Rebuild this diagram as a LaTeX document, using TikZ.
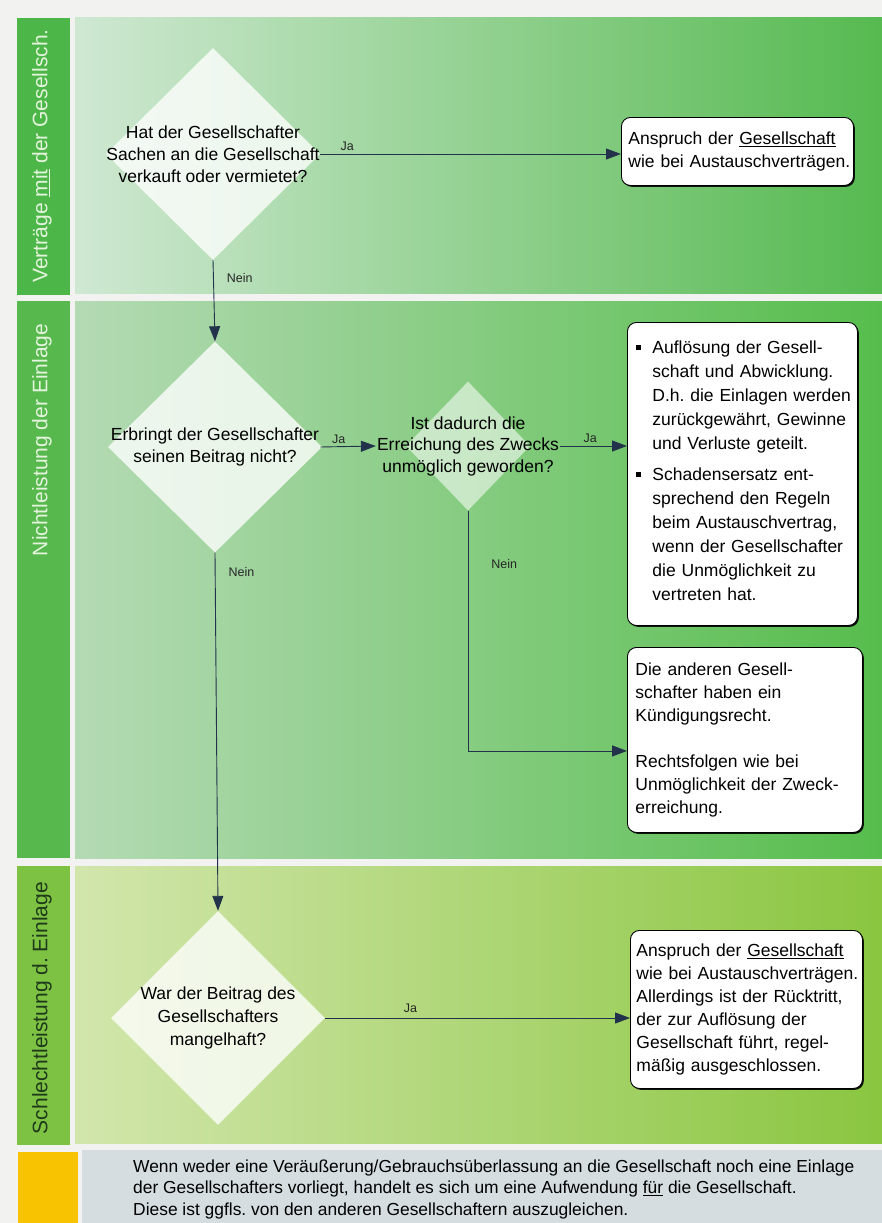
\documentclass[tikz,border=0pt]{standalone}
\usepackage{fontspec}
\setmainfont{Liberation Sans}
\usetikzlibrary{shapes.geometric,arrows.meta,shadows,positioning}
\definecolor{pagebg}{HTML}{F2F3F1}
\definecolor{barone}{HTML}{4CB748}
\definecolor{bartwo}{HTML}{57B84E}
\definecolor{barthree}{HTML}{7EC244}
\definecolor{barfont}{HTML}{E4F4DC}
\definecolor{darkfont}{HTML}{1E3A1A}
\definecolor{noteyellow}{HTML}{F8C300}
\definecolor{notegray}{HTML}{D5DDE0}
\definecolor{linecol}{HTML}{22324A}
\hyphenpenalty=10000
\frenchspacing
\tikzset{
  flow/.style={draw=linecol, line width=0.9pt, -{Triangle[length=15pt,width=11pt]}},
  question/.style={diamond, fill=white, fill opacity=0.78, draw=none, inner sep=0pt},
  qtext/.style={align=center, inner sep=1pt, font=\fontsize{17.5}{22}\selectfont},
  outcome/.style={draw=black, line width=0.9pt, rounded corners=9pt, fill=white,
    drop shadow={shadow xshift=1.4pt, shadow yshift=-1.4pt, fill=black, opacity=0.9},
    anchor=north west, align=left, inner xsep=6pt, inner ysep=0pt,
    font=\fontsize{17.5}{23}\selectfont},
  yesno/.style={font=\fontsize{12.5}{14}\selectfont, text=black!85, inner sep=1pt},
  bandlabel/.style={rotate=90, inner sep=0pt, font=\fontsize{21}{24}\selectfont}
}
\newcommand{\sqitem}[1]{\noindent\hspace*{7pt}\makebox[16pt][l]{\raisebox{3.5pt}{\rule{5pt}{5pt}}}\parbox[t]{203pt}{\raggedright\setlength{\baselineskip}{24pt}#1\strut}}
\begin{document}
\begin{tikzpicture}[x=1pt,y=-1pt]
\useasboundingbox (0,0) rectangle (882,1223);
\fill[pagebg] (0,0) rectangle (882,1223);

% bands
\fill[barone] (17,18) rectangle (70,295);
\shade[left color={rgb,255:red,207;green,232;blue,210}, right color={rgb,255:red,86;green,186;blue,80}] (75,18) rectangle (882,293);
\fill[bartwo] (17,301) rectangle (70,858);
\shade[left color={rgb,255:red,180;green,218;blue,180}, right color={rgb,255:red,86;green,189;blue,76}] (75,301) rectangle (882,858);
\fill[barthree] (17,866) rectangle (70,1145);
\shade[left color={rgb,255:red,210;green,230;blue,172}, right color={rgb,255:red,138;green,198;blue,64}] (75,866) rectangle (882,1143);
\fill[noteyellow] (18,1152) rectangle (78,1223);
\fill[notegray] (82,1150) rectangle (882,1223);

% band labels
\node[bandlabel, text=barfont] (L1) at (42,156) {Verträge \underline{mit} der Gesellsch.};
\node[bandlabel, text=barfont] (L2) at (42,440) {Nichtleistung der Einlage};
\node[bandlabel, text=darkfont] (L3) at (42,1008) {Schlechtleistung d. Einlage};

% questions
\node[question, minimum width=214pt, minimum height=212pt] (D1) at (213,154) {};
\node[qtext] (D1t) at (D1) {Hat der Gesellschafter\\Sachen an die Gesellschaft\\verkauft oder vermietet?};
\node[question, minimum width=214pt, minimum height=211pt] (D2) at (215,447) {};
\node[qtext] (D2t) at (D2) {Erbringt der Gesellschafter\\seinen Beitrag nicht?};
\node[question, fill opacity=0.55, minimum width=124pt, minimum height=129pt] (D3) at (468,446) {};
\node[qtext, font=\fontsize{17.5}{21.5}\selectfont] (D3t) at (D3) {Ist dadurch die\\Erreichung des Zwecks\\unmöglich geworden?};
\node[question, minimum width=214pt, minimum height=214pt] (D4) at (218,1018) {};
\node[qtext, font=\fontsize{17.5}{23}\selectfont] (D4t) at (D4) {War der Beitrag des\\Gesellschafters\\mangelhaft?};

% results
\node[outcome, text width=226pt, minimum width=232pt, minimum height=68pt, inner xsep=3pt] (A1) at (621,117)
  {\hspace*{4pt}Anspruch der \underline{Gesellschaft}\\\hspace*{4pt}wie bei Austauschverträgen.};
\node[outcome, text width=226pt, minimum width=230pt, minimum height=303pt, inner xsep=2pt] (B1) at (627,322)
  {\sqitem{Auflösung der Gesell-\\schaft und Abwicklung.\\D.h. die Einlagen werden\\zurückgewährt, Gewinne\\und Verluste geteilt.}\\[10pt]
   \sqitem{Schadensersatz ent-\\sprechend den Regeln\\beim Austauschvertrag,\\wenn der Gesellschafter\\die Unmöglichkeit zu\\vertreten hat.}};
\node[outcome, text width=219pt, minimum width=233pt, minimum height=185pt, inner xsep=8pt] (B2) at (627,647)
  {Die anderen Gesell-\\schafter haben ein\\Kündigungsrecht.\\[23pt]Rechtsfolgen wie bei\\Unmöglichkeit der Zweck-\\erreichung.};
\node[outcome, text width=226pt, minimum width=232pt, minimum height=158pt, inner xsep=3pt] (C1) at (630,930)
  {\hspace*{3pt}Anspruch der \underline{Gesellschaft}\\\hspace*{3pt}wie bei Austauschverträgen.\\\hspace*{3pt}Allerdings ist der Rücktritt,\\\hspace*{3pt}der zur Auflösung der\\\hspace*{3pt}Gesellschaft führt, regel-\\\hspace*{3pt}mäßig ausgeschlossen.};

% note
\node[anchor=west, align=left, inner sep=0pt, font=\fontsize{17.4}{21.5}\selectfont] (N1) at (133,1189)
  {Wenn weder eine Veräußerung/Gebrauchsüberlassung an die Gesellschaft noch eine Einlage\\der Gesellschafters vorliegt, handelt es sich um eine Aufwendung \underline{für} die Gesellschaft.\\Diese ist ggfls. von den anderen Gesellschaftern auszugleichen.};

% connectors
\draw[flow] (D1.east) -- node[yesno, pos=0.09, above=2pt] {Ja} (D1.east -| A1.west);
\draw[flow] (D1.south) -- node[yesno, pos=0.22, right=12pt] {Nein} (D2.north);
\draw[flow] (D2t.east) -- node[yesno, pos=0.33, above=2pt] {Ja} (D3t.west);
\draw[flow] (D2.south) -- node[yesno, pos=0.055, right=12pt] {Nein} (D4.north);
\draw[flow] (D3t.east) -- node[yesno, pos=0.45, above=2pt] {Ja} (D3t.east -| B1.west);
\draw[flow] (D3.south) |- node[yesno, pos=0.11, right=22pt] {Nein} ([yshift=-11pt]B2.west);
\draw[flow] (D4.east) -- node[yesno, pos=0.28, above=4pt] {Ja} (D4.east -| C1.west);
\end{tikzpicture}
\end{document}
